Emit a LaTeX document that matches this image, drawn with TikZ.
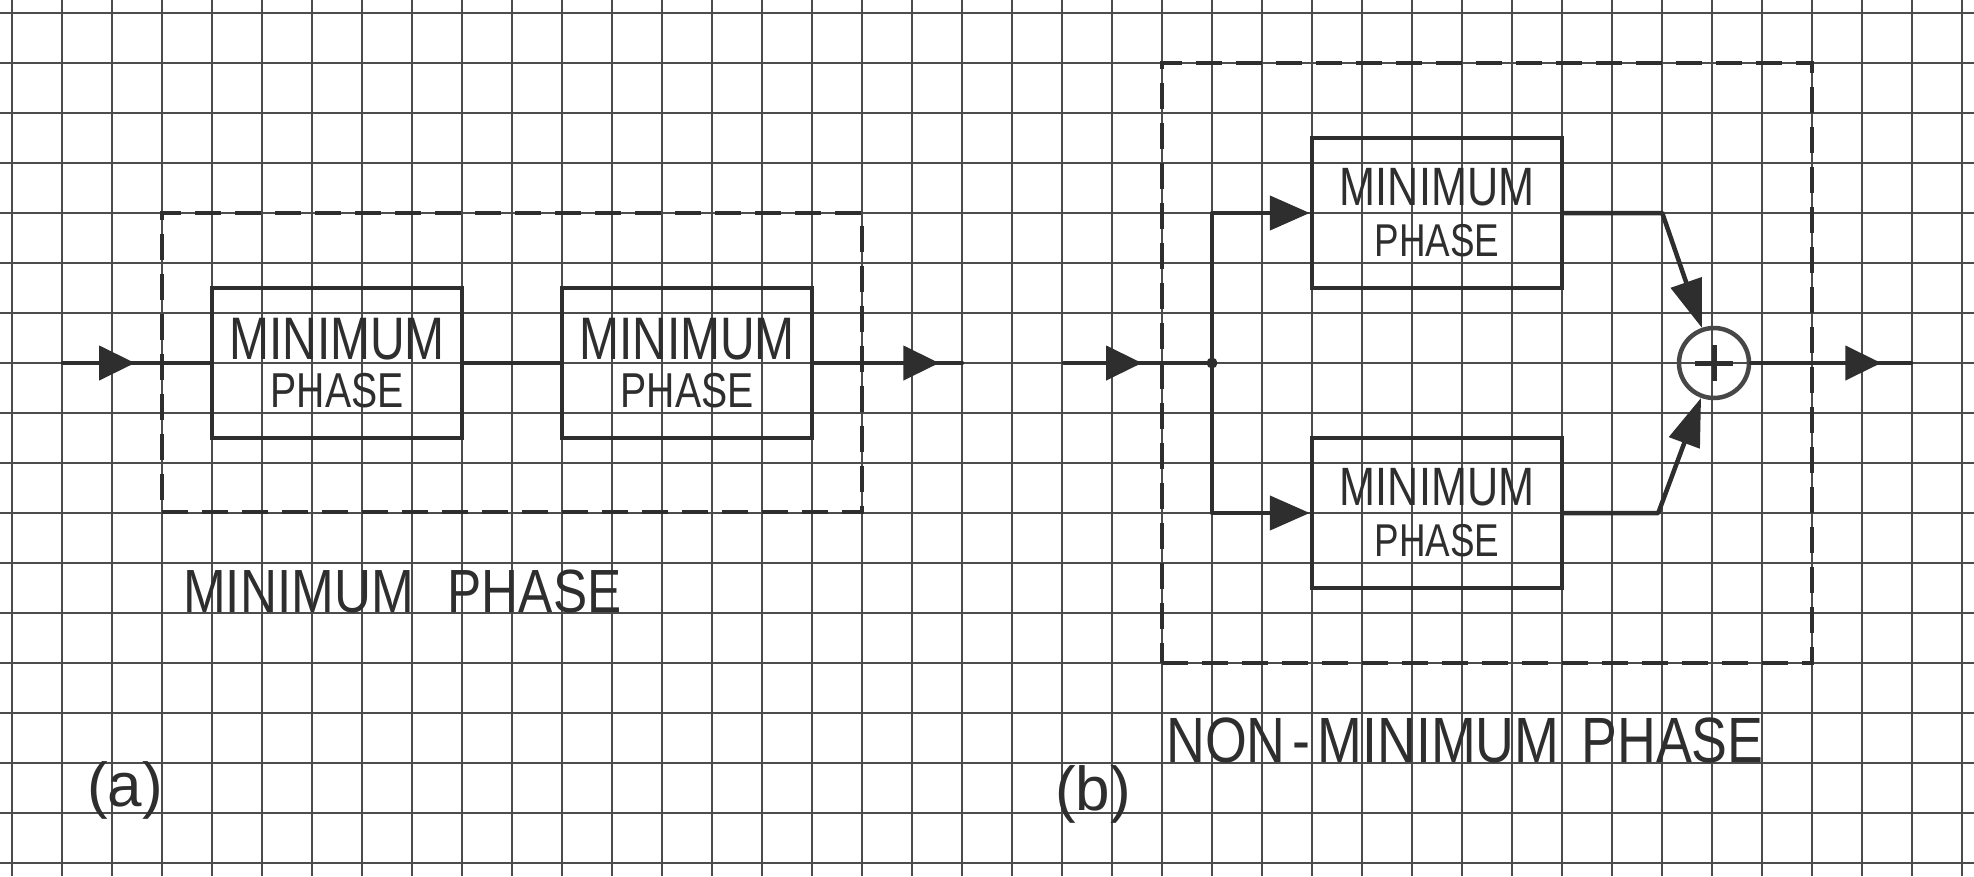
\documentclass[tikz,border=0pt]{standalone}
\usepackage{fontspec}
\setmainfont{Liberation Sans}
\newfontfamily\hand[FakeStretch=0.8]{Liberation Sans}
\newfontfamily\handcap[FakeStretch=0.84]{Liberation Sans}
\usetikzlibrary{arrows.meta,decorations.markings}
\begin{document}
\begin{tikzpicture}[x=1pt,y=-1pt,
  gridline/.style={draw=black!70, line width=1.6pt},
  sig/.style={color=black!82, line width=4.5pt, line join=round, line cap=round},
  block/.style={draw=black!82, line width=4.5pt, minimum width=250pt, minimum height=150pt,
    inner sep=0pt, align=center, text=black!82},
  blocka/.style={block, font=\hand\fontsize{60pt}{48pt}\selectfont},
  blockb/.style={block, font=\hand\fontsize{54pt}{51pt}\selectfont},
  frame/.style={draw=black!82, line width=4.5pt, dash pattern=on 26pt off 14pt,
    inner sep=0pt},
  lbl/.style={inner sep=0pt, text=black!82},
  midarrow/.style={postaction={decorate, decoration={markings,
    mark=at position #1 with {\arrow{Triangle[length=36pt,width=34pt]}}}}},
  sumtip/.style={-{Triangle[length=48pt,width=32pt]}},
  brtip/.style={-{Triangle[length=40pt,width=34pt]}}
]
\useasboundingbox (0,0) rectangle (1974,876);
\fill[white] (0,0) rectangle (1974,876);
% graph paper
\foreach \i in {0,...,39} \draw[gridline] (12+50*\i,0) -- (12+50*\i,876);
\foreach \j in {0,...,17} \draw[gridline] (0,13+50*\j) -- (1974,13+50*\j);

% ---------- (a) ----------
\node[frame, minimum width=700pt, minimum height=299pt] (fa) at (512,362.5) {};
\node[blocka] (a1) at (337,363) {MINIMUM\\{\fontsize{49pt}{48pt}\selectfont PHASE}};
\node[blocka] (a2) at (687,363) {MINIMUM\\{\fontsize{49pt}{48pt}\selectfont PHASE}};
\coordinate (ain) at (63,363);
\coordinate (aout) at (962,363);
\draw[sig, midarrow=72pt] (ain) -- (a1);
\draw[sig] (a1) -- (a2);
\draw[sig, midarrow=125pt] (a2) -- (aout);
\node[lbl, anchor=base west, font=\handcap\fontsize{61pt}{70pt}\selectfont] (capa) at (183,612) {MINIMUM\hspace{34pt}PHASE};
\node[lbl, font=\fontsize{62pt}{70pt}\selectfont] (taga) at (125,790) {(a)};

% ---------- (b) ----------
\node[frame, minimum width=650pt, minimum height=600pt] (fb) at (1487,363) {};
\node[blockb] (ub) at (1437,213) {MINIMUM\\{\fontsize{46pt}{51pt}\selectfont PHASE}};
\node[blockb] (lb) at (1437,513) {MINIMUM\\{\fontsize{46pt}{51pt}\selectfont PHASE}};
\node[circle, fill=black!82, inner sep=0pt, minimum size=11pt] (jn) at (1212,363) {};
\node[circle, draw=black!72, line width=4.5pt, minimum size=70pt, inner sep=0pt] (sum) at (1714,363) {};
\draw[sig, line width=5pt, line cap=butt] ([xshift=-19pt]sum.center) -- ([xshift=19pt]sum.center);
\draw[sig, line width=5pt, line cap=butt] ([yshift=-18pt]sum.center) -- ([yshift=18pt]sum.center);
\coordinate (bin) at (1064,363);
\coordinate (bout) at (1911,363);
\draw[sig, midarrow=78pt] (bin) -- (jn);
\draw[sig, brtip] (jn.center) |- (ub.west);
\draw[sig, brtip] (jn.center) |- (lb.west);
\draw[sig, sumtip] (ub.east) -- ++(98,0) -- (sum);
\draw[sig, sumtip] (lb.east) -- ++(94,0) -- (sum);
\draw[sig, midarrow=130pt] (sum) -- (bout);
\node[lbl, anchor=base west, font=\handcap\fontsize{64pt}{70pt}\selectfont] (capb) at (1166,762) {NON\kern7pt-\kern7pt MINIMUM\hspace{22pt}PHASE};
\node[lbl, font=\fontsize{62pt}{70pt}\selectfont] (tagb) at (1093,794) {(b)};
\end{tikzpicture}
\end{document}
